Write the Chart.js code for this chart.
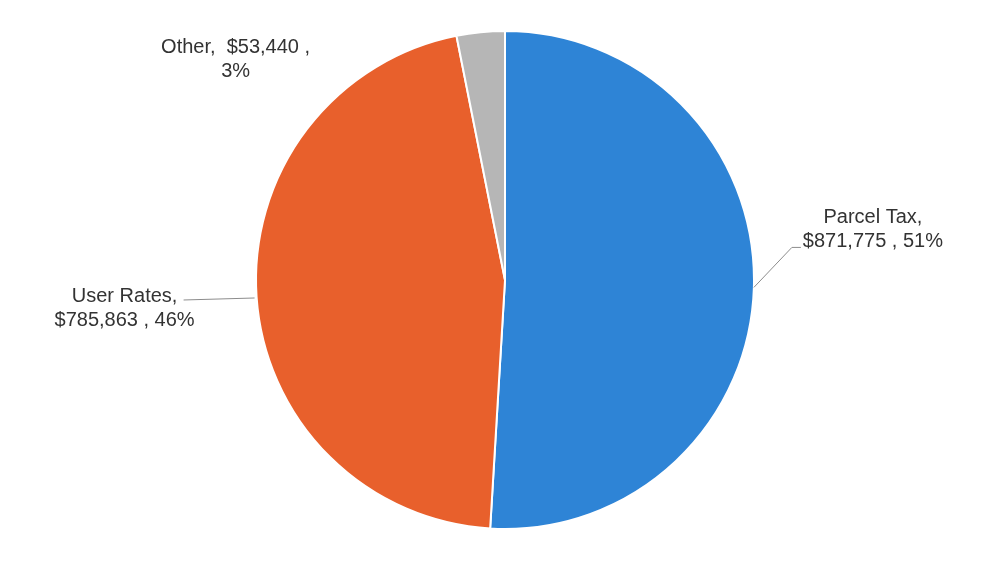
<!DOCTYPE html>
<html>
<head>
<meta charset="utf-8">
<script src="https://cdn.jsdelivr.net/npm/chart.js@4/dist/chart.umd.min.js"></script>
<style>
  html, body { margin: 0; padding: 0; background: #fff; }
  canvas { display: block; }
</style>
</head>
<body>
<canvas id="myChart" width="983" height="563"></canvas>
<script>
// Revenue sources
const categories = ["Parcel Tax", "User Rates", "Other"];
const amounts = [871775, 785863, 53440];
const percents = ["51%", "46%", "3%"];

const colors = ["#2e84d6", "#e8602c", "#b6b6b6"];

// label placement relative to the slice's outer edge point (text offsets + leader line)
const labelStyle = [
  { lines: ["Parcel Tax,", "$871,775 , 51%"], dx: 119, dy: -64, leader: [[0, 0], [38, -40], [47, -40]] },
  { lines: ["User Rates,", "$785,863 , 46%"], dx: -132, dy: 5, leader: [[-2, 1], [-73, 3]] },
  { lines: ["Other,  $53,440 ,", "3%"], dx: -245, dy: 21, leader: null },
];

const ctx = document.getElementById("myChart").getContext("2d");

const sliceLabels = {
  id: "sliceLabels",
  afterDatasetsDraw(chart) {
    const c = chart.ctx;
    const arcs = chart.getDatasetMeta(0).data;
    c.save();
    c.font = "20px 'Liberation Sans', Arial, sans-serif";
    c.fillStyle = "#333333";
    c.textAlign = "center";
    c.textBaseline = "alphabetic";
    arcs.forEach((arc, i) => {
      const p = arc.getProps(["x", "y", "startAngle", "endAngle", "outerRadius"], true);
      const mid = (p.startAngle + p.endAngle) / 2;
      const ex = p.x + Math.cos(mid) * p.outerRadius;
      const ey = p.y + Math.sin(mid) * p.outerRadius;
      const s = labelStyle[i];
      if (s.leader) {
        c.beginPath();
        c.strokeStyle = "#8c8c8c";
        c.lineWidth = 1;
        s.leader.forEach((pt, k) => {
          if (k === 0) c.moveTo(ex + pt[0], ey + pt[1]);
          else c.lineTo(ex + pt[0], ey + pt[1]);
        });
        c.stroke();
      }
      s.lines.forEach((t, k) => {
        c.fillText(t, ex + s.dx, ey + s.dy + k * 24);
      });
    });
    c.restore();
  },
};

new Chart(ctx, {
  type: "pie",
  data: {
    labels: categories,
    datasets: [
      {
        data: amounts,
        backgroundColor: colors,
        borderColor: "#ffffff",
        borderWidth: 2,
      },
    ],
  },
  options: {
    responsive: false,
    animation: false,
    layout: { padding: { left: 255, right: 228, top: 30, bottom: 33 } },
    plugins: {
      legend: { display: false },
      tooltip: { enabled: false },
    },
  },
  plugins: [sliceLabels],
});
</script>
</body>
</html>
